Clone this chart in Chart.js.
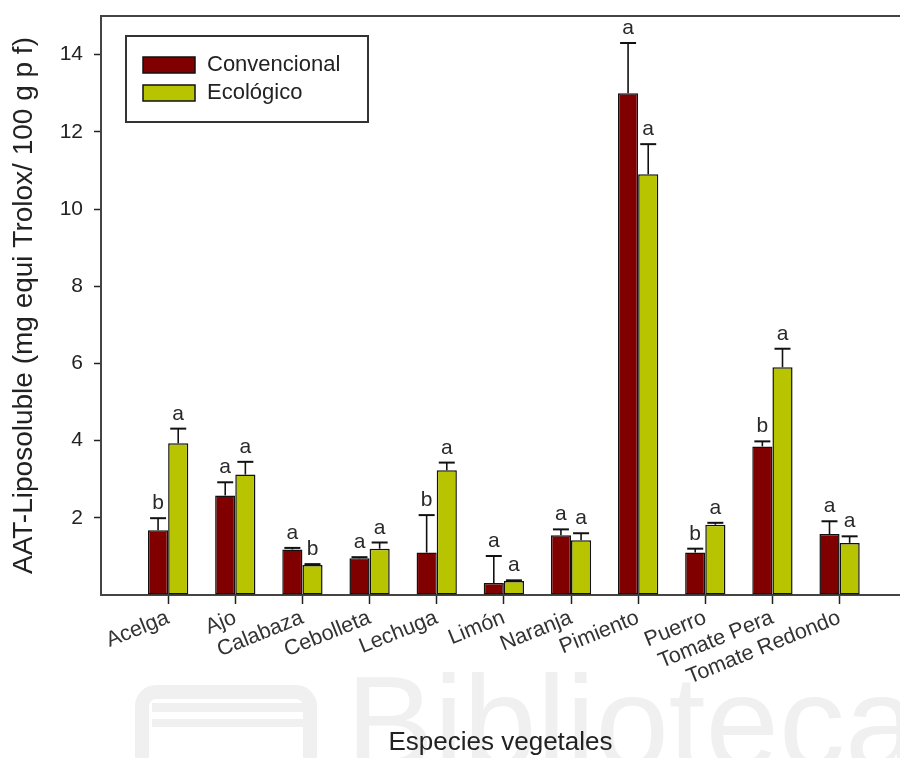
<!DOCTYPE html>
<html>
<head>
<meta charset="utf-8">
<title>AAT-Liposoluble por especie vegetal</title>
<script src="https://cdn.jsdelivr.net/npm/chart.js@4.4.1/dist/chart.umd.min.js"></script>
<style>
  html, body { margin: 0; padding: 0; background: #ffffff; overflow: hidden; }
  #wrap { position: relative; width: 900px; height: 758px; }
</style>
</head>
<body>
<div id="wrap"><canvas id="chart"></canvas></div>
<script>
// Especies vegetales analizadas
const categories = ['Acelga', 'Ajo', 'Calabaza', 'Cebolleta', 'Lechuga', 'Limón',
  'Naranja', 'Pimiento', 'Puerro', 'Tomate Pera', 'Tomate Redondo'];

// Medias (mg equi Trolox / 100 g p f) y desviaciones
const convencional    = [1.68, 2.58, 1.18, 0.95, 1.10, 0.31, 1.55, 13.00, 1.10, 3.85, 1.58];
const convencionalErr = [0.31, 0.34, 0.04, 0.03, 0.97, 0.70, 0.15, 1.30, 0.10, 0.13, 0.33];
const ecologico       = [3.93, 3.12, 0.78, 1.20, 3.23, 0.36, 1.42, 10.90, 1.82, 5.90, 1.35];
const ecologicoErr    = [0.38, 0.33, 0.02, 0.16, 0.20, 0.02, 0.18, 0.78, 0.05, 0.48, 0.17];

// Letras de significación estadística
const convencionalSig = ['b', 'a', 'a', 'a', 'b', 'a', 'a', 'a', 'b', 'b', 'a'];
const ecologicoSig    = ['a', 'a', 'b', 'a', 'a', 'a', 'a', 'a', 'a', 'a', 'a'];

// Marcas del eje Y
const yTicks = [2, 4, 6, 8, 10, 12, 14];

const FONT = "'Liberation Sans', Arial, Helvetica, sans-serif";
const RED = '#800000';
const GREEN = '#b8c400';

const toPoints = (vals) => vals.map((v, i) => ({ x: i + 1, y: v }));

// Marca de agua de fondo
const watermark = {
  id: 'watermark',
  beforeDraw(chart) {
    const ctx = chart.ctx;
    ctx.save();
    ctx.strokeStyle = '#f0f0f0';
    ctx.fillStyle = '#f0f0f0';
    ctx.lineWidth = 14;
    ctx.beginPath();
    ctx.roundRect(142, 692, 168, 120, 14);
    ctx.stroke();
    ctx.fillRect(152, 703, 160, 9);
    ctx.fillRect(152, 719, 160, 8);
    ctx.font = '132px ' + FONT;
    ctx.textBaseline = 'alphabetic';
    ctx.fillText('Biblioteca', 346, 768);
    ctx.restore();
  }
};

// Marco del área de trazado
const frame = {
  id: 'frame',
  beforeDatasetsDraw(chart) {
    const a = chart.chartArea;
    const ctx = chart.ctx;
    ctx.save();
    ctx.strokeStyle = '#444444';
    ctx.lineWidth = 2;
    ctx.strokeRect(a.left, a.top, a.right - a.left + 10, a.bottom - a.top);
    ctx.restore();
  }
};

// Barras de error y letras de significación
const errorBars = {
  id: 'errorBars',
  afterDatasetsDraw(chart) {
    const ctx = chart.ctx;
    const yScale = chart.scales.y;
    const errs = [convencionalErr, ecologicoErr];
    const sigs = [convencionalSig, ecologicoSig];
    ctx.save();
    chart.data.datasets.forEach((ds, di) => {
      const meta = chart.getDatasetMeta(di);
      meta.data.forEach((bar, j) => {
        const v = ds.data[j].y;
        const top = yScale.getPixelForValue(v + errs[di][j]);
        ctx.strokeStyle = '#111111';
        ctx.lineWidth = 1.6;
        ctx.beginPath();
        ctx.moveTo(bar.x, bar.y);
        ctx.lineTo(bar.x, top);
        ctx.stroke();
        ctx.lineWidth = 2;
        ctx.beginPath();
        ctx.moveTo(bar.x - 8, top);
        ctx.lineTo(bar.x + 8, top);
        ctx.stroke();
        ctx.fillStyle = '#2a2a2a';
        ctx.font = '21px ' + FONT;
        ctx.textAlign = 'center';
        ctx.textBaseline = 'alphabetic';
        ctx.fillText(sigs[di][j], bar.x, top - 9);
      });
    });
    ctx.restore();
  }
};

// Leyenda en recuadro dentro del área de trazado
const boxLegend = {
  id: 'boxLegend',
  afterDraw(chart) {
    const ctx = chart.ctx;
    ctx.save();
    ctx.strokeStyle = '#333333';
    ctx.lineWidth = 2;
    ctx.strokeRect(126, 36, 242, 86);
    chart.data.datasets.forEach((ds, i) => {
      const y = 57 + i * 28;
      ctx.fillStyle = ds.backgroundColor;
      ctx.fillRect(143, y, 52, 16);
      ctx.strokeStyle = '#111111';
      ctx.lineWidth = 1.5;
      ctx.strokeRect(143, y, 52, 16);
      ctx.fillStyle = '#222222';
      ctx.font = '22px ' + FONT;
      ctx.textAlign = 'left';
      ctx.textBaseline = 'middle';
      ctx.fillText(ds.label, 207, y + 8);
    });
    ctx.restore();
  }
};

new Chart(document.getElementById('chart'), {
  type: 'bar',
  data: {
    datasets: [
      { label: 'Convencional', data: toPoints(convencional), backgroundColor: RED,
        borderColor: '#111111', borderWidth: 1.5, borderSkipped: false },
      { label: 'Ecológico', data: toPoints(ecologico), backgroundColor: GREEN,
        borderColor: '#111111', borderWidth: 1.5, borderSkipped: false }
    ]
  },
  options: {
    responsive: true,
    maintainAspectRatio: false,
    animation: false,
    events: [],
    barPercentage: 1,
    categoryPercentage: 0.6,
    layout: { padding: { top: 16, right: 0, bottom: 0, left: 0 } },
    plugins: { legend: { display: false }, tooltip: { enabled: false } },
    scales: {
      x: {
        type: 'linear',
        min: 0,
        max: 11.9,
        offset: false,
        afterFit(scale) {
          scale.height = 163;
          scale.paddingLeft = 0;
          scale.paddingRight = 0;
        },
        border: { display: false },
        grid: {
          offset: false,
          drawOnChartArea: false,
          tickLength: 9,
          tickWidth: 1.5,
          tickColor: (c) => (c.tick && c.tick.value >= 1 && c.tick.value <= 11) ? '#222222' : 'rgba(0,0,0,0)'
        },
        ticks: {
          stepSize: 1,
          includeBounds: false,
          autoSkip: false,
          minRotation: 22,
          maxRotation: 22,
          padding: 1,
          color: '#333333',
          font: { family: FONT, size: 21.5 },
          callback: (v) => categories[v - 1] || ''
        },
        title: {
          display: true,
          text: 'Especies vegetales',
          color: '#222222',
          font: { family: FONT, size: 26 },
          padding: { top: 0, bottom: 0 }
        }
      },
      y: {
        min: 0,
        max: 15,
        afterFit(scale) {
          scale.width = 101;
          scale.paddingTop = 0;
          scale.paddingBottom = 0;
        },
        border: { display: false },
        grid: {
          drawOnChartArea: false,
          tickLength: 7,
          tickWidth: 1.5,
          tickColor: (c) => (c.tick && yTicks.includes(c.tick.value)) ? '#222222' : 'rgba(0,0,0,0)'
        },
        ticks: {
          stepSize: 2,
          includeBounds: false,
          padding: 11,
          color: '#222222',
          font: { family: FONT, size: 21 },
          callback: (v) => yTicks.includes(v) ? String(v) : ''
        },
        title: {
          display: true,
          text: 'AAT-Liposoluble (mg equi Trolox/ 100 g p f)',
          color: '#222222',
          font: { family: FONT, size: 28 },
          padding: { top: 7, bottom: 0 }
        }
      }
    }
  },
  plugins: [watermark, frame, errorBars, boxLegend]
});
</script>
</body>
</html>
